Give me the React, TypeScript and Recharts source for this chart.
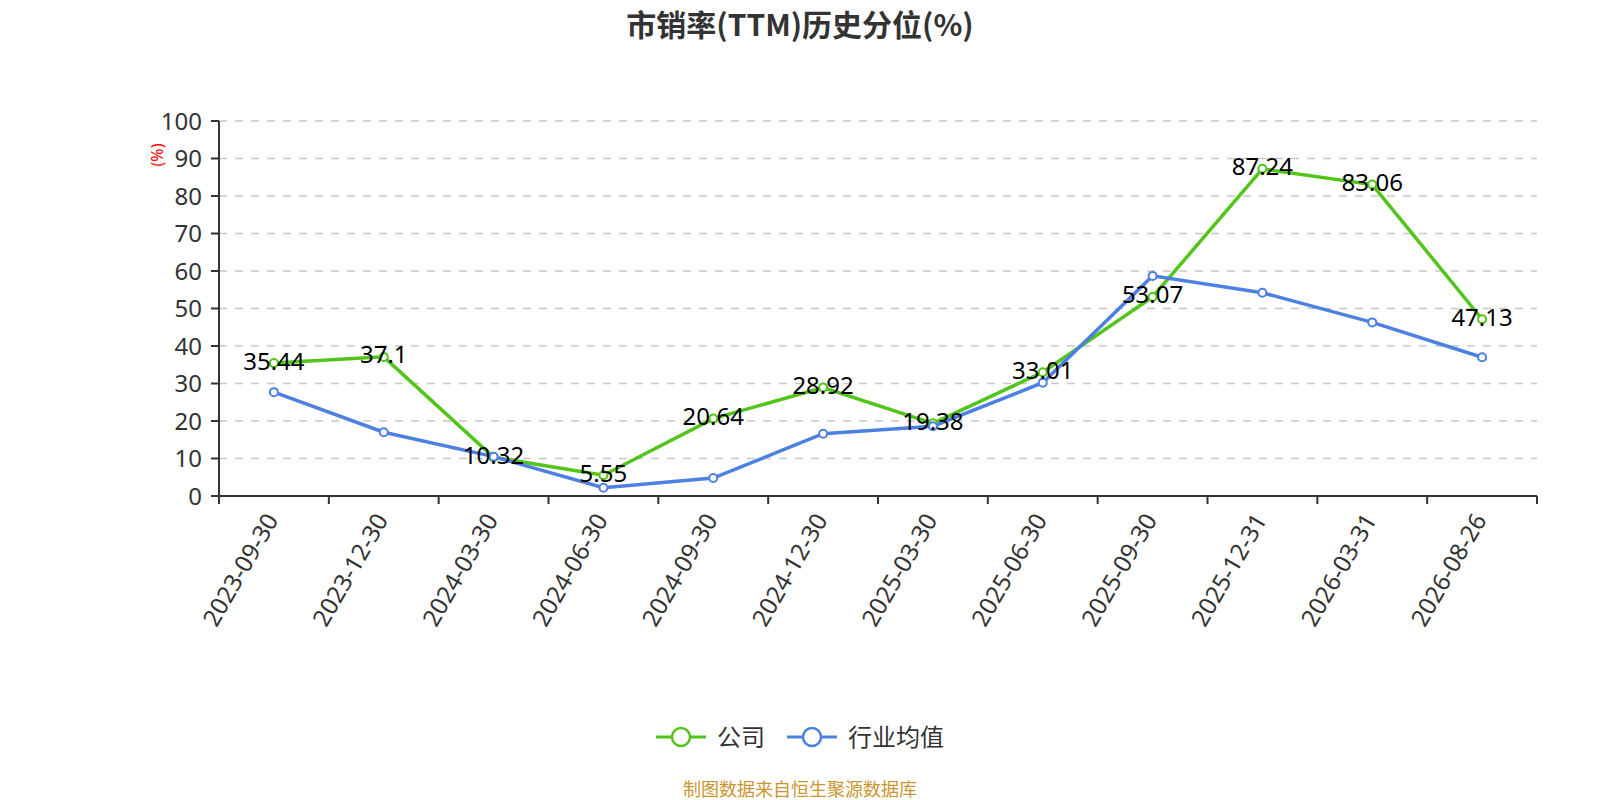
import React from 'react';
import { LineChart, Line, XAxis, YAxis, CartesianGrid, Legend, LabelList } from 'recharts';

const dates = ['2023-09-30', '2023-12-30', '2024-03-30', '2024-06-30', '2024-09-30', '2024-12-30', '2025-03-30', '2025-06-30', '2025-09-30', '2025-12-31', '2026-03-31', '2026-08-26'];
const companyValues = [35.44, 37.1, 10.32, 5.55, 20.64, 28.92, 19.38, 33.01, 53.07, 87.24, 83.06, 47.13];
const industryValues = [27.7, 17.0, 10.5, 2.2, 4.8, 16.6, 18.6, 30.2, 58.7, 54.2, 46.3, 37.0];
const yTicks = [0, 10, 20, 30, 40, 50, 60, 70, 80, 90, 100];
const seriesNames = ['公司', '行业均值'];
const seriesColors = ['#52C41A', '#4D80E1'];

const data = dates.map((d, i) => ({ date: d, company: companyValues[i], industry: industryValues[i] }));

const FONT = "'Noto Sans', 'Noto Sans CJK SC', sans-serif";
const CHART_W = 1600;
const CHART_H = 800;
const MARGIN = { top: 121, right: 63, left: 0, bottom: 150 };
const Y_AXIS_W = 219;
const PLOT_W = CHART_W - MARGIN.left - MARGIN.right - Y_AXIS_W;
const BAND = PLOT_W / dates.length;
const TICK_SIZE = 8;
const TICK_MARGIN = 4;
const ANGLE = 60;

const XTick = (props: any) => {
  const { x, y, payload, index } = props;
  const axisY = y - TICK_SIZE - TICK_MARGIN;
  const left = x - BAND / 2;
  const right = x + BAND / 2;
  const ax = x - 3;
  const ay = axisY + 19;
  return (
    <g>
      <line x1={left} y1={axisY} x2={left} y2={axisY + TICK_SIZE} stroke="#333" strokeWidth={2} />
      {index === dates.length - 1 && (
        <line x1={right} y1={axisY} x2={right} y2={axisY + TICK_SIZE} stroke="#333" strokeWidth={2} />
      )}
      <text
        x={ax}
        y={ay}
        textAnchor="end"
        dominantBaseline="central"
        fill="#333"
        fontSize={24}
        fontFamily={FONT}
        transform={`rotate(-${ANGLE}, ${ax}, ${ay})`}
      >
        {payload.value}
      </text>
    </g>
  );
};

const DataLabel = (props: any) => {
  const { x, y, value } = props;
  return (
    <text x={x} y={y - 3} textAnchor="middle" dominantBaseline="central" fill="#000" fontSize={24} fontFamily={FONT}>
      {value}
    </text>
  );
};

const YLabel = (props: any) => {
  const { viewBox } = props;
  const lx = viewBox.x + viewBox.width - 62;
  const ly = viewBox.y + 34;
  return (
    <text x={lx} y={ly} textAnchor="middle" dominantBaseline="central" fill="#FF0000" fontSize={16} fontFamily={FONT} transform={`rotate(-90, ${lx}, ${ly})`}>
      (%)
    </text>
  );
};

const LegendContent = () => (
  <div style={{ display: 'flex', justifyContent: 'center', alignItems: 'center', height: 34, fontFamily: FONT }}>
    {seriesNames.map((n, i) => (
      <div key={n} style={{ display: 'flex', alignItems: 'center', marginRight: i === 0 ? 22 : 0 }}>
        <svg width={50} height={24} style={{ display: 'block' }}>
          <line x1={0} y1={12} x2={50} y2={12} stroke={seriesColors[i]} strokeWidth={3} />
          <circle cx={25} cy={12} r={9} fill="#fff" stroke={seriesColors[i]} strokeWidth={2.5} />
        </svg>
        <span style={{ marginLeft: 11, fontSize: 24, color: '#333', lineHeight: '34px' }}>{n}</span>
      </div>
    ))}
  </div>
);

export default function App() {
  return (
    <div style={{ position: 'absolute', left: 0, top: 0, width: CHART_W, height: CHART_H, background: '#fff', fontFamily: FONT }}>
      <div style={{ position: 'absolute', top: 6, left: 0, width: CHART_W, textAlign: 'center', fontSize: 30, fontWeight: 'bold', color: '#333', lineHeight: '34px', fontFamily: "'Noto Sans CJK SC', 'Noto Sans', sans-serif" }}>
        市销率(TTM)历史分位(%)
      </div>
      <LineChart width={CHART_W} height={CHART_H} data={data} margin={MARGIN}>
        <CartesianGrid vertical={false} stroke="#c8c8c8" strokeWidth={1.6} strokeDasharray="8 8" />
        <XAxis
          dataKey="date"
          interval={0}
          height={120}
          padding={{ left: BAND / 2, right: BAND / 2 }}
          tickSize={TICK_SIZE}
          tickMargin={TICK_MARGIN}
          tickLine={false}
          axisLine={{ stroke: '#333', strokeWidth: 2 }}
          tick={<XTick />}
        />
        <YAxis
          width={Y_AXIS_W}
          domain={[0, 100]}
          ticks={yTicks}
          interval={0}
          tickSize={TICK_SIZE}
          tickMargin={9}
          axisLine={{ stroke: '#333', strokeWidth: 2 }}
          tickLine={{ stroke: '#333', strokeWidth: 2 }}
          tick={{ fill: '#333', fontSize: 24, fontFamily: FONT }}
          label={<YLabel />}
        />
        <Legend content={<LegendContent />} wrapperStyle={{ position: 'absolute', top: 720, left: 0, width: CHART_W, height: 34 }} />
        <Line
          type="linear"
          dataKey="company"
          name={seriesNames[0]}
          stroke={seriesColors[0]}
          strokeWidth={3.5}
          dot={{ r: 4, fill: '#fff', stroke: seriesColors[0], strokeWidth: 2 }}
          activeDot={false}
          isAnimationActive={false}
        >
          <LabelList dataKey="company" content={<DataLabel />} />
        </Line>
        <Line
          type="linear"
          dataKey="industry"
          name={seriesNames[1]}
          stroke={seriesColors[1]}
          strokeWidth={3.5}
          dot={{ r: 4, fill: '#fff', stroke: seriesColors[1], strokeWidth: 2 }}
          activeDot={false}
          isAnimationActive={false}
        />
      </LineChart>
      <div style={{ position: 'absolute', top: 777, left: 0, width: CHART_W, textAlign: 'center', fontSize: 18, color: '#C9962F', lineHeight: '22px', fontFamily: "'Noto Sans CJK SC', sans-serif" }}>
        制图数据来自恒生聚源数据库
      </div>
    </div>
  );
}
